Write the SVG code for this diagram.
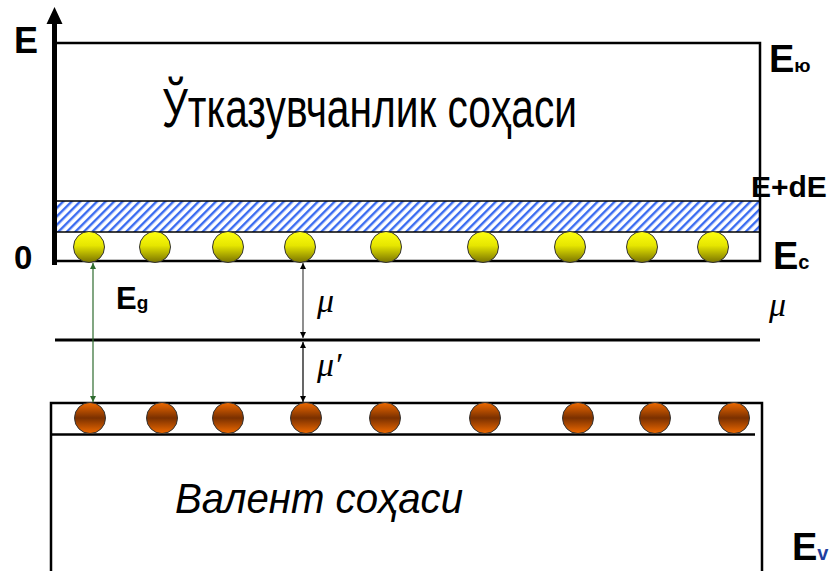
<svg xmlns="http://www.w3.org/2000/svg" width="832" height="571" viewBox="0 0 832 571">
<style>
.lbl{font-family:"Liberation Sans",Arial,sans-serif;font-weight:bold;fill:#000}
.mu{font-family:"Liberation Serif","Times New Roman",serif;font-style:italic;fill:#000;font-size:34px}
.yc{fill:url(#gy);stroke:#333;stroke-width:1}
.oc{fill:url(#go);stroke:#333;stroke-width:1}
</style>
<defs>
<linearGradient id="gy" x1="0" y1="0" x2="0" y2="1">
<stop offset="0" stop-color="#ffff10"/>
<stop offset="0.45" stop-color="#e6e600"/>
<stop offset="1" stop-color="#7a7400"/>
</linearGradient>
<linearGradient id="go" x1="0" y1="0" x2="0" y2="1">
<stop offset="0" stop-color="#f06a00"/>
<stop offset="0.5" stop-color="#7a3000"/>
<stop offset="1" stop-color="#f06a00"/>
</linearGradient>
<pattern id="hatch" patternUnits="userSpaceOnUse" width="6" height="10" patternTransform="rotate(45)">
<rect width="6" height="10" fill="#fff"/>
<rect width="2.4" height="10" fill="#3b6cf0"/>
</pattern>
<marker id="ak" viewBox="0 0 10 10" refX="10" refY="5" markerWidth="6" markerHeight="6" orient="auto-start-reverse" markerUnits="userSpaceOnUse">
<path d="M0,0 L10,5 L0,10 z" fill="#000"/>
</marker>
<marker id="ag" viewBox="0 0 10 10" refX="10" refY="5" markerWidth="6" markerHeight="6" orient="auto-start-reverse" markerUnits="userSpaceOnUse">
<path d="M0,0 L10,5 L0,10 z" fill="#2e6b2e"/>
</marker>
</defs>
<rect width="832" height="571" fill="#fff"/>

<g id="conduction-band">
<rect x="55" y="201" width="705" height="31" fill="url(#hatch)" stroke="#000" stroke-width="1.5"/>
<polyline points="55,43 760,43 760,261 55,261" fill="none" stroke="#000" stroke-width="2.5"/>
<text x="162" y="127" font-family="'Liberation Sans',Arial,sans-serif" font-size="56" textLength="415" lengthAdjust="spacingAndGlyphs" fill="#000">Ўтказувчанлик соҳаси</text>
</g>

<g id="axis">
<line x1="54.5" y1="20" x2="54.5" y2="265" stroke="#000" stroke-width="5"/>
<path d="M46.5,24 L54.5,7 L62.5,24 z" fill="#000"/>
<text class="lbl" x="14" y="53" font-size="36">E</text>
<text class="lbl" x="14" y="269" font-size="33">0</text>
</g>

<g id="electrons">
<circle class="yc" cx="89" cy="247" r="15.5"/>
<circle class="yc" cx="155" cy="247" r="15.5"/>
<circle class="yc" cx="228" cy="247" r="15.5"/>
<circle class="yc" cx="300" cy="247" r="15.5"/>
<circle class="yc" cx="386" cy="247" r="15.5"/>
<circle class="yc" cx="483" cy="247" r="15.5"/>
<circle class="yc" cx="570" cy="247" r="15.5"/>
<circle class="yc" cx="642" cy="247" r="15.5"/>
<circle class="yc" cx="713" cy="247" r="15.5"/>
</g>

<g id="fermi-level">
<line x1="55" y1="340" x2="760" y2="340" stroke="#000" stroke-width="3"/>
</g>

<g id="valence-band">
<polyline points="51,571 51,403 762,403 762,571" fill="none" stroke="#000" stroke-width="2.5"/>
<line x1="51" y1="434.5" x2="755" y2="434.5" stroke="#000" stroke-width="2.5"/>
<text x="175" y="513" font-family="'Liberation Sans',Arial,sans-serif" font-style="italic" font-size="42" textLength="288" lengthAdjust="spacingAndGlyphs" fill="#000">Валент соҳаси</text>
</g>

<g id="holes">
<circle class="oc" cx="90" cy="418" r="15.5"/>
<circle class="oc" cx="162" cy="418" r="15.5"/>
<circle class="oc" cx="228" cy="418" r="15.5"/>
<circle class="oc" cx="306" cy="418" r="15.5"/>
<circle class="oc" cx="385" cy="418" r="15.5"/>
<circle class="oc" cx="485" cy="418" r="15.5"/>
<circle class="oc" cx="578" cy="418" r="15.5"/>
<circle class="oc" cx="655" cy="418" r="15.5"/>
<circle class="oc" cx="734" cy="418" r="15.5"/>
</g>

<g id="connectors">
<line x1="93" y1="263" x2="93" y2="402" stroke="#2e6b2e" stroke-width="1.2" marker-start="url(#ag)" marker-end="url(#ag)"/>
<line x1="303" y1="263" x2="303" y2="338" stroke="#444" stroke-width="1.2" marker-start="url(#ak)" marker-end="url(#ak)"/>
<line x1="303" y1="342" x2="303" y2="402" stroke="#000" stroke-width="1.2" marker-start="url(#ak)" marker-end="url(#ak)"/>
</g>

<g id="labels">
<text class="lbl" x="769" y="72" font-size="38">E<tspan font-size="19">ю</tspan></text>
<text class="lbl" x="751" y="197" font-size="30">E+dE</text>
<text class="lbl" x="773" y="269" font-size="38">E<tspan font-size="20">c</tspan></text>
<text class="lbl" x="116" y="309" font-size="31">E<tspan font-size="19">g</tspan></text>
<text class="lbl" x="792" y="560" font-size="38">E<tspan font-size="20" fill="#1f3f9f">v</tspan></text>
<text class="mu" x="317" y="312">μ</text>
<text class="mu" x="317" y="376">μ′</text>
<text class="mu" x="769" y="316">μ</text>
</g>
</svg>
